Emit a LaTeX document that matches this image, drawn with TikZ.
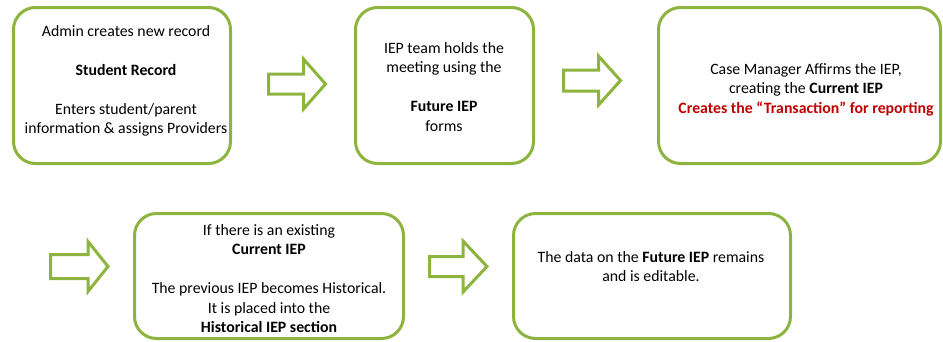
\documentclass[tikz,border=0pt]{standalone}
\usepackage{fontspec}
\setmainfont{Carlito}
\definecolor{leaf}{HTML}{8DB43E}
\definecolor{alert}{HTML}{C00000}
\begin{document}
\begin{tikzpicture}[x=1pt,y=-1pt,
  stepbox/.style={draw=leaf, line width=3pt, rounded corners=22pt, fill=white, inner sep=0pt},
  txt/.style={align=center, inner sep=0pt, anchor=north, font=\fontsize{15.8}{19.5}\selectfont},
  arrowline/.style={draw=leaf, line width=3pt, fill=white, line join=miter},
  pics/fatarrow/.style n args={4}{code={
    % #1 length, #2 where the head starts, #3 half shaft width, #4 half head width
    \draw[arrowline] (0,-#3) -- (#2,-#3) -- (#2,-#4) -- (#1,0) -- (#2,#4) -- (#2,#3) -- (0,#3) -- cycle;
  }}]
\useasboundingbox (0,0) rectangle (943,341);

% process steps
\node[stepbox, minimum width=217pt, minimum height=156pt] (b1) at (122,85.5) {};
\node[stepbox, minimum width=178pt, minimum height=156pt] (b2) at (444.5,85.5) {};
\node[stepbox, minimum width=282pt, minimum height=156pt] (b3) at (799.5,85.5) {};
\node[stepbox, minimum width=269pt, minimum height=125pt] (b4) at (269,276) {};
\node[stepbox, minimum width=277pt, minimum height=125pt] (b5) at (652,276) {};

% step texts
\node[txt] (t1) at (126,25) {Admin creates new record\\[19.5pt]\textbf{Student Record}\\[19.5pt]Enters student/parent\\information \& assigns Providers};
\node[txt] (t2) at (444,42) {IEP team holds the\\meeting using the\\[19.5pt]\textbf{Future IEP}\\forms};
\node[txt] (t3) at (806,63) {Case Manager Affirms the IEP,\\creating the \textbf{Current IEP}\\\textcolor{alert}{\textbf{Creates the “Transaction” for reporting}}};
\node[txt] (t4) at (269,224) {If there is an existing\\\textbf{Current IEP}\\[19.5pt]The previous IEP becomes Historical.\\It is placed into the\\\textbf{Historical IEP section}};
\node[txt] (t5) at (651,251) {The data on the \textbf{Future IEP} remains\\and is editable.};

% block arrows between steps
\pic at (268.5,84) {fatarrow={57}{35}{10}{25}};
\pic at (563.5,80.5) {fatarrow={57}{35}{10.5}{24.5}};
\pic at (50.5,266.5) {fatarrow={57.5}{37.5}{12}{25}};
\pic at (429.5,266.5) {fatarrow={57.5}{33.5}{10}{25.5}};
\end{tikzpicture}
\end{document}
